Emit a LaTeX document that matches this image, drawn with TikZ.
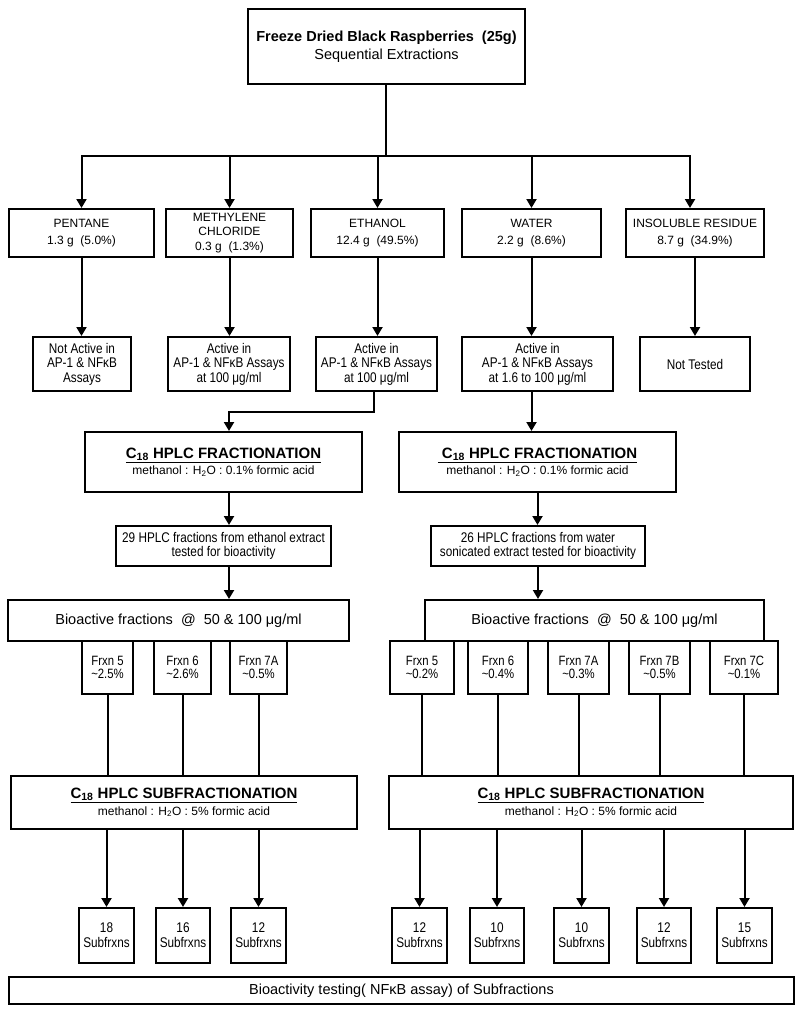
\documentclass[tikz,border=0pt]{standalone}
\usepackage{fontspec}
\setmainfont{Liberation Sans}
\newfontfamily\condfont[FakeStretch=0.84]{Liberation Sans}
\usetikzlibrary{arrows.meta}
\tikzset{
  box/.style={draw, line width=2pt, inner sep=0pt, align=center, font=\fontsize{12}{14.5}\selectfont},
  cbox/.style={box, font=\condfont\fontsize{14}{14.5}\selectfont},
  conn/.style={line width=2pt},
  arr/.style={line width=2pt, -{Triangle[width=10pt,length=9pt]}},
}
\begin{document}
\begin{tikzpicture}[x=1pt,y=-1pt]
\useasboundingbox[fill=white] (0,0) rectangle (800,1011);
% top
\node[box, minimum width=277pt, minimum height=75pt, font=\fontsize{14.5}{18}\selectfont] (top) at (386.5,46.5)
  {\textbf{Freeze Dried Black Raspberries~ (25g)}\\Sequential Extractions};
% row 1
\tikzset{r1/.style={box, minimum height=48pt, font=\fontsize{12}{16.5}\selectfont}}
\node[r1, minimum width=145pt] (pent) at (81.5,233) {PENTANE\\1.3 g~ (5.0\%)};
\node[r1, minimum width=127pt, font=\fontsize{12}{14.5}\selectfont] (meth) at (229.5,233) {METHYLENE\\CHLORIDE\\0.3 g~ (1.3\%)};
\node[r1, minimum width=133pt] (eth) at (377.5,233) {ETHANOL\\12.4 g~ (49.5\%)};
\node[r1, minimum width=139pt] (water) at (531.5,233) {WATER\\2.2 g~ (8.6\%)};
\node[r1, minimum width=138pt] (insol) at (695,233) {INSOLUBLE RESIDUE\\8.7 g~ (34.9\%)};
% row 2
\tikzset{r2/.style={cbox, minimum height=54pt}}
\node[r2, minimum width=98pt] (notact) at (82,364) {Not Active in\\AP-1 \& NFκB\\Assays};
\node[r2, minimum width=122pt] (act1) at (229,364) {Active in\\AP-1 \& NFκB Assays\\at 100 μg/ml};
\node[r2, minimum width=121pt] (act2) at (376.5,364) {Active in\\AP-1 \& NFκB Assays\\at 100 μg/ml};
\node[r2, minimum width=151pt] (act3) at (537.5,364) {Active in\\AP-1 \& NFκB Assays\\at 1.6 to 100 μg/ml};
\node[r2, minimum width=110pt] (nott) at (695,364) {Not Tested};
% C18 boxes
\node[box, minimum width=277pt, minimum height=60pt] (c18L) at (223.5,462)
  {{\fontsize{15}{17}\selectfont\bfseries\underline{C\textsubscript{18} HPLC FRACTIONATION}}\\[2pt]methanol : H\textsubscript{2}O : 0.1\% formic acid};
\node[box, minimum width=277pt, minimum height=60pt] (c18R) at (537.5,462)
  {{\fontsize{15}{17}\selectfont\bfseries\underline{~C\textsubscript{18} HPLC FRACTIONATION}}\\[2pt]methanol : H\textsubscript{2}O : 0.1\% formic acid};
\node[cbox, minimum width=215pt, minimum height=40pt] (f29) at (223.5,546) {29 HPLC fractions from ethanol extract\\tested for bioactivity};
\node[cbox, minimum width=214pt, minimum height=40pt] (f26) at (538,546) {26 HPLC fractions from water\\sonicated extract tested for bioactivity};
% bioactive
\node[box, minimum width=341pt, minimum height=41pt, font=\fontsize{14.5}{17}\selectfont] (bioL) at (178.5,620.5) {Bioactive fractions~ @~ 50 \& 100 μg/ml};
\node[box, minimum width=339pt, minimum height=41pt, font=\fontsize{14.5}{17}\selectfont] (bioR) at (594.5,620.5) {Bioactive fractions~ @~ 50 \& 100 μg/ml};
% frxn boxes
\tikzset{fx/.style={cbox, minimum height=53pt, font=\condfont\fontsize{13.5}{13.5}\selectfont}}
\node[fx, minimum width=51pt] (fl5) at (107.5,667.5) {Frxn 5\\\textasciitilde2.5\%};
\node[fx, minimum width=57pt] (fl6) at (182.5,667.5) {Frxn 6\\\textasciitilde2.6\%};
\node[fx, minimum width=57pt] (fl7) at (258.5,667.5) {Frxn 7A\\\textasciitilde0.5\%};
\node[fx, minimum width=64pt] (fr5) at (422,667.5) {Frxn 5\\\textasciitilde0.2\%};
\node[fx, minimum width=60pt] (fr6) at (498,667.5) {Frxn 6\\\textasciitilde0.4\%};
\node[fx, minimum width=61pt] (fr7a) at (578.5,667.5) {Frxn 7A\\\textasciitilde0.3\%};
\node[fx, minimum width=61pt] (fr7b) at (659.5,667.5) {Frxn 7B\\\textasciitilde0.5\%};
\node[fx, minimum width=68pt] (fr7c) at (744,667.5) {Frxn 7C\\\textasciitilde0.1\%};
% subfractionation
\node[box, minimum width=346pt, minimum height=53pt] (subL) at (184,802.5)
  {{\fontsize{15}{17}\selectfont\bfseries\underline{C\textsubscript{18} HPLC SUBFRACTIONATION}}\\[2pt]methanol : H\textsubscript{2}O : 5\% formic acid};
\node[box, minimum width=404pt, minimum height=53pt] (subR) at (591,802.5)
  {{\fontsize{15}{17}\selectfont\bfseries\underline{C\textsubscript{18} HPLC SUBFRACTIONATION}}\\[2pt]methanol : H\textsubscript{2}O : 5\% formic acid};
% subfrxn boxes
\tikzset{sf/.style={cbox, minimum height=55pt, font=\condfont\fontsize{14}{15}\selectfont}}
\node[sf, minimum width=55pt] (sl1) at (106.5,935.5) {18\\Subfrxns};
\node[sf, minimum width=54pt] (sl2) at (183,935.5) {16\\Subfrxns};
\node[sf, minimum width=55pt] (sl3) at (258.5,935.5) {12\\Subfrxns};
\node[sf, minimum width=55pt] (sr1) at (419.5,935.5) {12\\Subfrxns};
\node[sf, minimum width=54pt] (sr2) at (497,935.5) {10\\Subfrxns};
\node[sf, minimum width=55pt] (sr3) at (581.5,935.5) {10\\Subfrxns};
\node[sf, minimum width=54pt] (sr4) at (664,935.5) {12\\Subfrxns};
\node[sf, minimum width=55pt] (sr5) at (744.5,935.5) {15\\Subfrxns};
% bottom
\node[box, minimum width=785pt, minimum height=27pt, font=\fontsize{14.5}{17}\selectfont] (bot) at (401.5,990.5) {Bioactivity testing( NFκB assay) of Subfractions};

% connectors
\coordinate (hub) at (386,156);
\draw[conn] (top.south -| hub) -- (hub);
\draw[arr] (hub) -| (pent.north);
\draw[arr] (hub) -| (meth.north);
\draw[arr] (hub) -| (eth.north);
\draw[arr] (hub) -| (water.north);
\draw[arr] (hub) -| ([xshift=-5pt]insol.north);
\draw[arr] (pent.south) -- (pent.south |- notact.north);
\draw[arr] (meth.south) -- (meth.south |- act1.north);
\draw[arr] (eth.south) -- (eth.south |- act2.north);
\draw[arr] (water.south) -- (water.south |- act3.north);
\draw[arr] (insol.south) -- (insol.south |- nott.north);
\coordinate (e1) at (374,412);
\coordinate (e2) at (229,412);
\draw[arr] (act2.south -| e1) -- (e1) -- (e2) -- (e2 |- c18L.north);
\draw[arr] (act3.south -| water.south) -- (water.south |- c18R.north);
\draw[arr] (c18L.south -| e2) -- (e2 |- f29.north);
\draw[arr] (f29.south -| e2) -- (e2 |- bioL.north);
\draw[arr] (c18R.south) -- (c18R.south |- f26.north);
\draw[arr] (f26.south) -- (f26.south |- bioR.north);
\foreach \f in {fl5,fl6,fl7} \draw[conn] (\f.south) -- (\f.south |- subL.north);
\foreach \f in {fr5,fr6,fr7a,fr7b,fr7c} \draw[conn] (\f.south) -- (\f.south |- subR.north);
\foreach \s in {sl1,sl2,sl3} \draw[arr] (\s.north |- subL.south) -- (\s.north);
\foreach \s in {sr1,sr2,sr3,sr4,sr5} \draw[arr] (\s.north |- subR.south) -- (\s.north);
\end{tikzpicture}
\end{document}
